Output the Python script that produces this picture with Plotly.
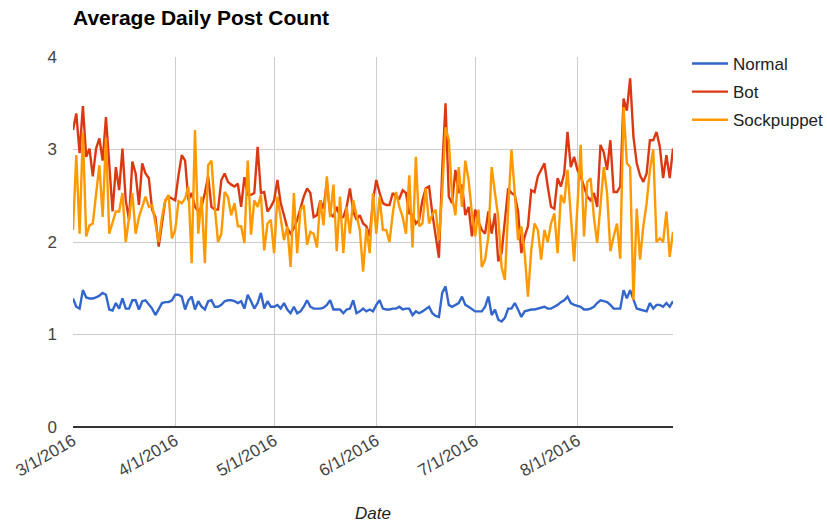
import pandas as pd
import plotly.graph_objects as go

START_DATE = "2016-03-01"

normal = [
    1.39, 1.30, 1.28, 1.48, 1.40, 1.39, 1.39, 1.40, 1.42, 1.45,
    1.43, 1.27, 1.26, 1.34, 1.28, 1.39, 1.28, 1.28, 1.37, 1.37,
    1.27, 1.36, 1.37, 1.32, 1.28, 1.21, 1.28, 1.34, 1.35, 1.35,
    1.37, 1.43, 1.43, 1.41, 1.27, 1.37, 1.41, 1.27, 1.36, 1.30,
    1.27, 1.36, 1.37, 1.30, 1.30, 1.32, 1.36, 1.37, 1.37, 1.36,
    1.34, 1.36, 1.28, 1.43, 1.36, 1.28, 1.34, 1.45, 1.28, 1.36,
    1.30, 1.30, 1.32, 1.28, 1.34, 1.27, 1.23, 1.30, 1.23, 1.25,
    1.30, 1.37, 1.30, 1.28, 1.28, 1.28, 1.29, 1.32, 1.37, 1.27,
    1.27, 1.27, 1.23, 1.27, 1.28, 1.37, 1.23, 1.25, 1.28, 1.25,
    1.27, 1.25, 1.32, 1.37, 1.28, 1.27, 1.27, 1.28, 1.28, 1.30,
    1.27, 1.28, 1.28, 1.21, 1.25, 1.23, 1.25, 1.28, 1.30, 1.23,
    1.20, 1.19, 1.45, 1.52, 1.32, 1.30, 1.32, 1.34, 1.41, 1.32,
    1.30, 1.27, 1.25, 1.25, 1.25, 1.30, 1.41, 1.21, 1.27, 1.16,
    1.14, 1.18, 1.28, 1.28, 1.34, 1.27, 1.19, 1.25, 1.26, 1.27,
    1.27, 1.28, 1.29, 1.30, 1.28, 1.28, 1.30, 1.32, 1.35, 1.37,
    1.41, 1.34, 1.32, 1.31, 1.30, 1.27, 1.27, 1.28, 1.30, 1.34,
    1.37, 1.36, 1.35, 1.32, 1.28, 1.28, 1.28, 1.48, 1.39, 1.48,
    1.37, 1.28, 1.27, 1.26, 1.25, 1.34, 1.28, 1.32, 1.32, 1.30,
    1.34, 1.30, 1.36,
]

bot = [
    3.21, 3.39, 2.96, 3.47, 2.92, 3.01, 2.71, 3.01, 3.12, 2.88,
    3.35, 2.88, 2.33, 2.81, 2.56, 3.01, 2.45, 2.24, 2.87, 2.74,
    2.40, 2.85, 2.74, 2.69, 2.35, 2.27, 1.95, 2.20, 2.45, 2.49,
    2.47, 2.45, 2.72, 2.94, 2.88, 2.45, 2.53, 2.38, 2.33, 2.38,
    2.53, 2.71, 2.38, 2.35, 2.35, 2.67, 2.74, 2.65, 2.62, 2.60,
    2.63, 2.38, 2.70, 2.51, 2.51, 2.53, 3.03, 2.53, 2.54, 2.33,
    2.38, 2.45, 2.67, 2.42, 2.29, 2.15, 2.09, 2.15, 2.24, 2.38,
    2.49, 2.58, 2.53, 2.27, 2.29, 2.45, 2.36, 2.65, 2.31, 2.27,
    2.38, 2.27, 2.27, 2.38, 2.58, 2.33, 2.24, 2.29, 2.20, 2.17,
    2.06, 2.45, 2.67, 2.53, 2.42, 2.40, 2.40, 2.53, 2.49, 2.47,
    2.56, 2.53, 2.31, 2.29, 2.20, 2.24, 2.45, 2.58, 2.60, 2.31,
    2.04, 1.83, 2.78, 3.50, 2.49, 2.42, 2.78, 2.53, 2.62, 2.29,
    2.38, 2.06, 2.35, 2.22, 2.13, 2.09, 2.33, 2.09, 2.31, 1.79,
    1.88, 2.24, 2.58, 2.53, 2.51, 2.33, 1.88, 2.06, 2.17, 2.56,
    2.54, 2.71, 2.78, 2.85, 2.60, 2.38, 2.36, 2.69, 2.60, 2.74,
    3.19, 2.81, 2.92, 2.78, 2.71, 2.60, 2.49, 2.45, 2.53, 2.38,
    3.05, 2.97, 2.78, 3.10, 2.54, 2.54, 2.60, 3.55, 3.42, 3.77,
    3.14, 2.85, 2.72, 2.65, 2.74, 3.10, 3.10, 3.19, 3.03, 2.69,
    2.94, 2.69, 3.01,
]

sockpuppet = [
    2.13, 2.94, 2.09, 3.19, 2.06, 2.18, 2.20, 2.53, 2.83, 2.27,
    3.12, 2.09, 2.20, 2.33, 2.33, 2.53, 2.00, 2.24, 2.53, 2.09,
    2.27, 2.38, 2.49, 2.38, 2.40, 2.20, 2.00, 2.27, 2.45, 2.51,
    2.04, 2.13, 2.44, 2.42, 2.47, 2.60, 1.77, 3.21, 2.09, 2.49,
    1.77, 2.83, 2.88, 2.38, 2.00, 2.09, 2.54, 2.49, 2.29, 2.42,
    2.17, 2.17, 1.99, 2.88, 2.08, 2.45, 2.38, 2.51, 1.91, 2.20,
    2.24, 1.88, 2.49, 2.26, 2.02, 2.17, 1.73, 2.53, 1.88, 2.35,
    2.40, 1.97, 2.11, 2.09, 1.94, 2.45, 2.18, 2.71, 2.27, 2.62,
    1.90, 2.49, 1.88, 2.38, 2.09, 2.45, 2.27, 2.13, 1.68, 2.15,
    1.88, 2.53, 2.09, 2.49, 2.13, 2.13, 2.00, 2.31, 2.54, 2.38,
    2.27, 2.09, 2.72, 1.94, 2.92, 2.17, 2.20, 2.58, 2.20, 2.30,
    2.35, 2.02, 2.53, 3.24, 3.10, 2.49, 2.29, 2.81, 2.38, 2.88,
    2.67, 2.31, 2.06, 2.35, 1.73, 1.81, 2.06, 2.81, 2.53, 2.27,
    1.73, 1.59, 2.35, 3.00, 2.53, 2.02, 2.17, 1.88, 1.41, 1.91,
    2.20, 2.13, 1.81, 2.13, 2.00, 2.20, 2.31, 1.88, 2.51, 2.42,
    2.78, 2.31, 1.79, 2.38, 3.05, 2.06, 2.65, 2.69, 2.27, 1.99,
    2.42, 2.81, 2.53, 1.90, 2.06, 2.20, 1.82, 3.46, 2.85, 2.81,
    1.37, 2.36, 1.81, 2.17, 2.42, 2.78, 3.00, 2.00, 2.04, 2.00,
    2.33, 1.84, 2.11,
]

tick_dates = ["2016-03-01", "2016-04-01", "2016-05-01", "2016-06-01", "2016-07-01", "2016-08-01"]
tick_labels = ["3/1/2016", "4/1/2016", "5/1/2016", "6/1/2016", "7/1/2016", "8/1/2016"]
y_ticks = [0, 1, 2, 3, 4]

dates = pd.date_range(START_DATE, periods=len(normal), freq="D")

FONT = "Liberation Sans, Arial, sans-serif"

fig = go.Figure()
series = [("Normal", normal, "#3366cc"), ("Bot", bot, "#dc3912"), ("Sockpuppet", sockpuppet, "#ff9900")]
for name, vals, color in series:
    fig.add_trace(go.Scatter(
        x=dates, y=vals, mode="lines", name=name, legendgroup=name,
        line=dict(color=color, width=2.4),
    ))

fig.update_layout(
    width=827, height=525,
    margin=dict(l=73, r=154, t=57, b=98, autoexpand=False),
    paper_bgcolor="white", plot_bgcolor="white",
    font=dict(family=FONT, size=17, color="#222222"),
    title=dict(text="<b>Average Daily Post Count</b>", x=73 / 827, xanchor="left",
               y=1 - 18 / 525, yanchor="middle", xref="container", yref="container",
               font=dict(family=FONT, size=21, color="#000000")),
    showlegend=True,
    legend=dict(x=1.0233, xanchor="left", y=1.0297, yanchor="top",
                font=dict(family=FONT, size=17, color="#222222"),
                tracegroupgap=3, itemwidth=36, bgcolor="rgba(0,0,0,0)"),
    xaxis=dict(
        range=[dates[0], dates[-1]],
        tickvals=tick_dates, ticktext=tick_labels, tickangle=-30,
        showgrid=True, gridcolor="#cccccc", gridwidth=1,
        zeroline=False, showline=False, ticks="", automargin=False,
        tickfont=dict(family=FONT, size=17, color="#444444"),
        title=dict(text="<i>Date</i>", font=dict(family=FONT, size=17, color="#222222"), standoff=27),
    ),
    yaxis=dict(
        range=[0, 4], tickvals=y_ticks, ticktext=[str(v) for v in y_ticks],
        showgrid=True, gridcolor="#cccccc", gridwidth=1,
        zeroline=True, zerolinecolor="#333333", zerolinewidth=1.5,
        showline=False, ticks="", automargin=False, ticklabelstandoff=15,
        tickfont=dict(family=FONT, size=17, color="#444444"),
    ),
)

fig.write_html("out.html", config={"displayModeBar": False},
               post_script="document.body.style.margin='0';")
